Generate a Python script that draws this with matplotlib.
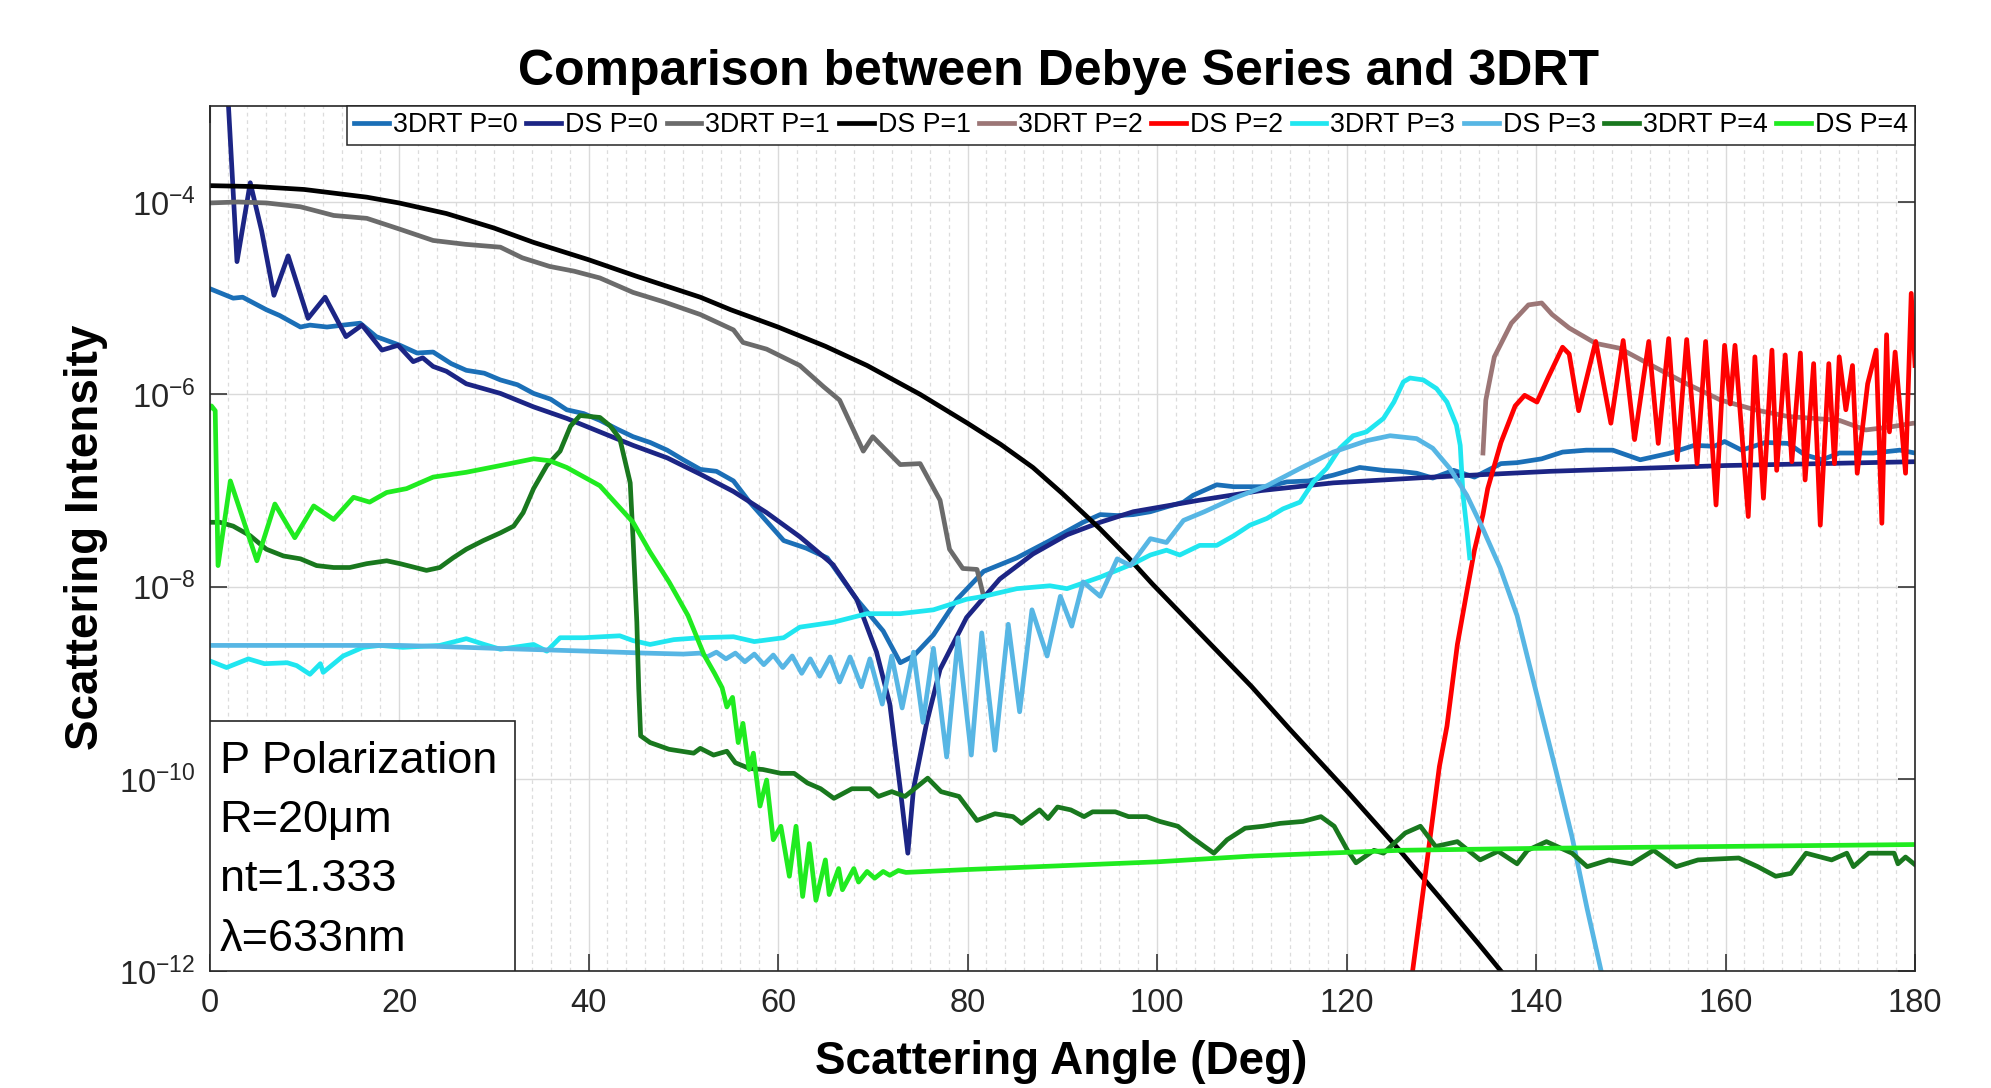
import numpy as np
import matplotlib
matplotlib.use("Agg")
import matplotlib.pyplot as plt
from matplotlib.patches import Rectangle
from matplotlib.ticker import FixedLocator, MultipleLocator, FuncFormatter, NullLocator

plt.rcParams['font.family'] = ['Liberation Sans', 'DejaVu Sans']
plt.rcParams['mathtext.fontset'] = 'custom'
plt.rcParams['mathtext.rm'] = 'Liberation Sans'
plt.rcParams['mathtext.it'] = 'Liberation Sans'
plt.rcParams['mathtext.bf'] = 'Liberation Sans:bold'
plt.rcParams['mathtext.default'] = 'regular'

# ---------------- data (angle in degrees, log10 of scattering intensity) ----------------
rt0_angle = [0, 2.5, 3.5, 6.0, 7.4, 9.6, 10.6, 12.4, 14.1, 15.9, 17.6, 20.1, 21.9, 23.6, 25.5, 27.1, 29, 30.7,
             32.5, 34.2, 36, 37.7, 39.5, 41.2, 43, 44.7, 46.5, 48.3, 50, 51.8, 53.5, 55.3, 57.0, 60.6, 63, 65.2,
             68.3, 71.1, 72.9, 74.3, 76.4, 78.9, 81.7, 85.2, 88.7, 92.2, 94.0, 95.8, 97.5, 99.3, 101, 102.8,
             103.8, 106.3, 108.1, 111.6, 113.7, 116, 118.6, 121.4, 123.9, 125.65, 127.4, 129.1, 131.3, 133.5,
             136.3, 138, 140.6, 142.8, 145.3, 148.1, 151, 154.2, 156.7, 158.8, 159.9, 161.7, 164.2, 166.6,
             168.4, 170.2, 172, 175.6, 178.4, 180]
rt0_log10 = [-4.90, -5.00, -4.99, -5.12, -5.18, -5.30, -5.28, -5.30, -5.28, -5.26, -5.40, -5.49, -5.57, -5.56,
             -5.68, -5.75, -5.78, -5.85, -5.90, -5.99, -6.05, -6.16, -6.20, -6.27, -6.36, -6.44, -6.50, -6.58,
             -6.68, -6.78, -6.80, -6.90, -7.12, -7.52, -7.60, -7.70, -8.13, -8.46, -8.79, -8.72, -8.50, -8.13,
             -7.84, -7.70, -7.52, -7.33, -7.25, -7.26, -7.25, -7.22, -7.17, -7.12, -7.05, -6.94, -6.96, -6.96,
             -6.91, -6.90, -6.84, -6.76, -6.79, -6.80, -6.82, -6.87, -6.79, -6.86, -6.72, -6.71, -6.67, -6.60,
             -6.58, -6.58, -6.68, -6.61, -6.53, -6.54, -6.49, -6.58, -6.50, -6.51, -6.63, -6.68, -6.61, -6.61,
             -6.58, -6.61]

ds0_angle = [1.5, 2.0, 2.9, 4.3, 5.5, 6.8, 8.3, 10.4, 12.2, 14.4, 16.1, 18.2, 19.9, 21.5, 22.5, 23.6, 25, 27.1,
             30.7, 34.2, 37.7, 41.2, 44.7, 48.3, 51.8, 55.3, 58.8, 62.3, 65.8, 68.3, 70.4, 71.8, 72.9, 73.7,
             74.3, 75.7, 77.1, 79.9, 83.4, 86.9, 90.5, 94.0, 97.5, 104.5, 111, 118.6, 129.1, 141.5, 160, 180]
ds0_log10 = [-2.4, -3.0, -4.62, -3.80, -4.30, -4.97, -4.56, -5.21, -4.99, -5.40, -5.28, -5.54, -5.49, -5.66,
             -5.62, -5.71, -5.76, -5.89, -5.99, -6.13, -6.25, -6.39, -6.53, -6.66, -6.83, -7.01, -7.23, -7.48,
             -7.77, -8.13, -8.68, -9.22, -10.1, -10.77, -10.1, -9.41, -8.86, -8.32, -7.92, -7.66, -7.46, -7.33,
             -7.22, -7.10, -7.00, -6.92, -6.86, -6.80, -6.74, -6.70]

rt1_angle = [0, 3, 6, 9.6, 13.1, 16.6, 20, 23.6, 27, 30.7, 33, 35.9, 38.5, 41.2, 44.7, 48, 51.8, 55.3, 56.3,
             58.8, 62.3, 64.8, 66.5, 69.0, 70.0, 72.9, 75.0, 77.1, 78.1, 79.5, 81.0, 81.7]
rt1_log10 = [-4.01, -4.00, -4.01, -4.05, -4.14, -4.17, -4.28, -4.40, -4.44, -4.47, -4.58, -4.67, -4.72, -4.79,
             -4.94, -5.04, -5.17, -5.33, -5.46, -5.53, -5.70, -5.92, -6.06, -6.59, -6.44, -6.73, -6.72, -7.10,
             -7.61, -7.81, -7.82, -8.10]

ds1_angle = [0, 5, 10, 16.6, 20, 25, 30, 34.2, 40, 45, 51.8, 55, 60, 65, 69.4, 75, 80, 83.5, 86.9, 90, 94,
             97, 99.5, 104.5, 110, 114, 120, 125.6, 130, 134, 137]
ds1_log10 = [-3.83, -3.84, -3.87, -3.95, -4.01, -4.12, -4.27, -4.42, -4.60, -4.77, -4.99, -5.12, -5.30, -5.50,
             -5.70, -6.00, -6.30, -6.52, -6.76, -7.03, -7.40, -7.70, -7.97, -8.48, -9.04, -9.48, -10.12,
             -10.74, -11.25, -11.72, -12.08]

rt2_angle = [134.4, 134.7, 135.6, 137.4, 139.2, 140.6, 141.7, 143.5, 146.3, 148.8, 152.4, 155.9, 159.5, 163.1,
             166.6, 172, 174.8, 177.3, 179.8, 180]
rt2_log10 = [-6.61, -6.06, -5.61, -5.26, -5.07, -5.05, -5.17, -5.31, -5.47, -5.52, -5.71, -5.89, -6.06, -6.16,
             -6.23, -6.27, -6.37, -6.34, -6.30, -6.30]

ds2_angle = [126.9, 128.2, 129.8, 130.6, 131.7, 132.7, 133.5, 134.4, 134.9, 136.3, 137.8, 138.8, 140.1, 141.3,
             142.8, 143.5, 144.5, 146.3, 147.9, 149.2, 150.4, 151.9, 152.9, 154.0, 154.9, 155.9, 157.0, 157.9,
             159.0, 159.9, 160.5, 161.0, 162.4, 163.1, 164.0, 164.9, 165.4, 166.3, 167.0, 167.9, 168.4, 169.3,
             170.0, 170.9, 171.5, 172.0, 172.7, 173.4, 173.9, 175.0, 175.9, 176.5, 177.0, 177.3, 177.9, 179.0,
             179.6, 180]
ds2_log10 = [-12.05, -11.08, -9.87, -9.45, -8.60, -8.05, -7.62, -7.25, -6.98, -6.50, -6.12, -6.01, -6.08, -5.82,
             -5.51, -5.58, -6.17, -5.45, -6.30, -5.44, -6.47, -5.45, -6.51, -5.42, -6.68, -5.43, -6.72, -5.45,
             -7.15, -5.49, -6.10, -5.49, -7.27, -5.61, -7.08, -5.54, -6.79, -5.59, -6.70, -5.57, -6.89, -5.68,
             -7.36, -5.68, -6.72, -5.61, -6.16, -5.70, -6.82, -5.89, -5.54, -7.34, -5.38, -6.39, -5.56, -6.82,
             -4.95, -5.70]

rt3_angle = [0, 1.8, 4.1, 5.8, 8.2, 9.2, 10.6, 11.7, 12.0, 14.1, 16.2, 18.0, 20.4, 24.3, 27.1, 29, 30.7, 34.2,
             35.6, 37.0, 39.5, 43.3, 44.7, 46.5, 49, 51.8, 55.3, 57.5, 60.6, 62.3, 65.8, 69.4, 72.9, 76.4, 79.9,
             81.7, 85.2, 88.7, 90.5, 94.0, 97.5, 99.3, 101, 102.4, 104.5, 106.3, 108.1, 109.8, 111.6, 113.3,
             115.1, 116.5, 117.9, 119.3, 120.7, 122.1, 123.9, 125.0, 126.0, 126.7, 128.1, 129.5, 130.6, 131.6,
             132.0, 132.3, 132.7, 133.0]
rt3_log10 = [-8.77, -8.84, -8.75, -8.80, -8.79, -8.82, -8.91, -8.80, -8.89, -8.72, -8.63, -8.61, -8.63, -8.61,
             -8.54, -8.60, -8.65, -8.60, -8.67, -8.53, -8.53, -8.51, -8.56, -8.60, -8.55, -8.53, -8.52, -8.57,
             -8.53, -8.42, -8.37, -8.28, -8.28, -8.24, -8.13, -8.10, -8.02, -7.99, -8.02, -7.90, -7.76, -7.67,
             -7.62, -7.67, -7.57, -7.57, -7.47, -7.36, -7.29, -7.19, -7.12, -6.91, -6.77, -6.56, -6.43, -6.39,
             -6.25, -6.08, -5.87, -5.83, -5.85, -5.94, -6.08, -6.32, -6.53, -7.05, -7.40, -7.70]

ds3_angle = [0, 10, 20, 24, 30, 40, 46, 50, 51.8, 52.5, 53.5, 54.5, 55.5, 56.5, 57.5, 58.5, 59.5, 60.5, 61.5,
             62.5, 63.4, 64.4, 65.5, 66.5, 67.6, 68.8, 69.7, 71.0, 72.0, 73.1, 74.3, 75.3, 76.4, 77.8, 79.0,
             80.4, 81.5, 82.9, 84.3, 85.5, 86.8, 88.4, 89.8, 91.0, 92.2, 94.0, 95.8, 97.2, 99.3, 101, 102.8,
             105, 108.1, 111.6, 115.1, 118.6, 122.2, 124.6, 127.4, 129.1, 130.9, 132.7, 134.4, 136.2, 138,
             139.9, 142.2, 143.8, 145.4, 147.0]
ds3_log10 = [-8.61, -8.61, -8.61, -8.62, -8.64, -8.67, -8.69, -8.70, -8.69, -8.73, -8.68, -8.75, -8.69, -8.78,
             -8.70, -8.81, -8.71, -8.84, -8.72, -8.90, -8.75, -8.93, -8.73, -8.99, -8.73, -9.04, -8.75, -9.22,
             -8.72, -9.26, -8.68, -9.41, -8.64, -9.77, -8.53, -9.75, -8.48, -9.70, -8.39, -9.30, -8.24, -8.72,
             -8.10, -8.41, -7.95, -8.10, -7.71, -7.78, -7.50, -7.54, -7.31, -7.22, -7.08, -6.95, -6.77, -6.60,
             -6.48, -6.43, -6.46, -6.56, -6.77, -7.05, -7.40, -7.80, -8.30, -9.05, -9.95, -10.60, -11.35, -12.05]

rt4_angle = [0, 1.1, 2.5, 4.3, 6.0, 7.8, 9.6, 11.3, 13.1, 14.8, 16.6, 18.7, 20.1, 22.9, 24.3, 25.7, 27.1, 28.9,
             30.7, 32.1, 33.1, 34.2, 35.6, 37.0, 38.1, 39.1, 41.2, 42.3, 43.3, 44.4, 44.7, 45.1, 45.3, 45.5,
             46.5, 48.5, 51.1, 51.8, 53.2, 54.6, 55.5, 57.0, 58.4, 60.3, 61.7, 63.1, 64.5, 65.9, 67.8, 69.7,
             70.6, 72.0, 73.4, 75.8, 77.2, 79.1, 81.0, 82.9, 84.8, 85.7, 87.6, 88.5, 89.5, 90.9, 92.3, 93.2,
             95.6, 97.0, 98.9, 100.3, 102.2, 103.6, 105.0, 106.0, 107.4, 109.3, 111.2, 113.0, 115.4, 117.3,
             118.7, 120.1, 121.0, 122.9, 123.9, 126.2, 127.8, 129.4, 131.7, 134.1, 136.0, 138.0, 139.1, 141.1,
             143.8, 145.4, 147.7, 150.1, 152.4, 154.8, 157.1, 161.4, 163.4, 165.3, 166.9, 168.5, 171.2, 172.8,
             173.5, 175.1, 177.8, 178.2, 179.0, 180]
rt4_log10 = [-7.33, -7.33, -7.37, -7.47, -7.61, -7.68, -7.71, -7.78, -7.80, -7.80, -7.76, -7.73, -7.76, -7.83,
             -7.80, -7.70, -7.61, -7.52, -7.44, -7.37, -7.23, -6.98, -6.74, -6.59, -6.33, -6.22, -6.24, -6.33,
             -6.46, -6.92, -7.50, -8.37, -9.06, -9.55, -9.62, -9.69, -9.73, -9.68, -9.75, -9.71, -9.83, -9.89,
             -9.90, -9.94, -9.94, -10.04, -10.10, -10.20, -10.10, -10.10, -10.18, -10.13, -10.18, -9.99, -10.13,
             -10.18, -10.43, -10.36, -10.39, -10.46, -10.32, -10.41, -10.29, -10.32, -10.39, -10.34, -10.34,
             -10.39, -10.39, -10.44, -10.49, -10.60, -10.70, -10.77, -10.63, -10.51, -10.49, -10.46, -10.44,
             -10.39, -10.49, -10.74, -10.87, -10.74, -10.77, -10.56, -10.49, -10.70, -10.65, -10.84, -10.75,
             -10.88, -10.74, -10.65, -10.77, -10.91, -10.84, -10.88, -10.74, -10.91, -10.84, -10.82, -10.91,
             -11.01, -10.98, -10.77, -10.84, -10.77, -10.91, -10.77, -10.77, -10.88, -10.81, -10.89]

ds4_angle = [0, 0.2, 0.6, 0.9, 2.2, 5.0, 6.9, 9.0, 11.0, 13.1, 15.2, 16.9, 18.7, 20.8, 23.6, 27.1, 30.7, 34.2,
             35.9, 37.7, 41.2, 44.7, 46.5, 48.5, 50.5, 52.2, 53.3, 54.1, 54.6, 55.2, 55.8, 56.3, 56.95, 57.4,
             58.1, 58.8, 59.5, 60.3, 61.2, 61.9, 62.6, 63.3, 64.0, 65.0, 65.4, 66.4, 66.8, 68.0, 68.5, 69.4,
             70.2, 71.1, 71.8, 72.7, 73.5, 80, 90, 100, 110, 125.7, 140, 160, 180]
ds4_log10 = [-6.15, -6.12, -6.17, -7.78, -6.90, -7.73, -7.14, -7.49, -7.16, -7.30, -7.07, -7.12, -7.02, -6.98,
             -6.86, -6.81, -6.74, -6.67, -6.69, -6.76, -6.95, -7.33, -7.64, -7.95, -8.30, -8.71, -8.90, -9.05,
             -9.25, -9.15, -9.62, -9.42, -9.90, -9.73, -10.28, -10.01, -10.63, -10.49, -11.01, -10.49, -11.22,
             -10.67, -11.26, -10.84, -11.20, -10.93, -11.15, -10.93, -11.07, -10.96, -11.03, -10.96, -11.00,
             -10.95, -10.97, -10.94, -10.90, -10.86, -10.80, -10.74, -10.72, -10.70, -10.68]

series_labels = ['3DRT P=0', 'DS P=0', '3DRT P=1', 'DS P=1', '3DRT P=2', 'DS P=2',
                 '3DRT P=3', 'DS P=3', '3DRT P=4', 'DS P=4']
series_colors = ['#1b6fb7', '#1c2585', '#6b6b6b', '#000000', '#9c7676', '#ff0000',
                 '#20e6f0', '#57b6e4', '#19781e', '#20eb20']

x_ticks = [0, 20, 40, 60, 80, 100, 120, 140, 160, 180]
y_tick_exponents = [-12, -10, -8, -6, -4]
annotation_lines = ['P Polarization', 'R=20\u03bcm', 'nt=1.333', '\u03bb=633nm']
title_text = 'Comparison between Debye Series and 3DRT'
xlabel_text = 'Scattering Angle (Deg)'
ylabel_text = 'Scattering Intensity'

# ---------------- figure ----------------
fig = plt.figure(figsize=(19.91, 10.88), dpi=100)
ax = fig.add_axes([0.10523, 0.10708, 0.85661, 0.79568])

angles = [rt0_angle, ds0_angle, rt1_angle, ds1_angle, rt2_angle, ds2_angle, rt3_angle, ds3_angle, rt4_angle, ds4_angle]
logs = [rt0_log10, ds0_log10, rt1_log10, ds1_log10, rt2_log10, ds2_log10, rt3_log10, ds3_log10, rt4_log10, ds4_log10]

for a, l, lab, col in zip(angles, logs, series_labels, series_colors):
    ax.plot(a, 10.0 ** np.asarray(l), color=col, lw=3.4, label=lab, solid_joinstyle='round')

ax.set_yscale('log')
ax.set_xlim(0, 180)
ax.set_ylim(1e-12, 1e-3)

ax.xaxis.set_major_locator(FixedLocator(x_ticks))
ax.xaxis.set_minor_locator(MultipleLocator(2))
ax.yaxis.set_major_locator(FixedLocator([10.0 ** e for e in y_tick_exponents]))
ax.yaxis.set_minor_locator(NullLocator())
ax.yaxis.set_major_formatter(FuncFormatter(lambda v, p: r'$10^{%d}$' % int(round(np.log10(v)))))

ax.grid(which='major', axis='both', color='#dadada', lw=1.0)
ax.grid(which='minor', axis='x', color='#dcdcdc', lw=0.9, linestyle=(0, (3, 3)))
ax.set_axisbelow(True)

ax.tick_params(which='major', direction='in', length=12, width=1.1, colors='#262626',
               labelsize=23.5, top=True, right=True, pad=12)
ax.tick_params(axis='y', which='major', pad=10)
ax.tick_params(which='minor', length=0, top=True, right=True)
for s in ax.spines.values():
    s.set_color('#262626')
    s.set_linewidth(1.2)

leg = ax.legend(loc='upper right', bbox_to_anchor=(1.0, 1.0), ncol=10, fontsize=19.3,
                frameon=True, fancybox=False, borderaxespad=0.0, borderpad=0.25,
                handlelength=1.3, handletextpad=0.15, columnspacing=0.32, framealpha=1.0)
leg.get_frame().set_edgecolor('#262626')
leg.get_frame().set_linewidth(1.1)

# annotation box in lower-left corner
ax.add_patch(Rectangle((0, 0), 0.1794, 0.2894, transform=ax.transAxes, facecolor='white',
                       edgecolor='#262626', lw=1.2, zorder=5))
for txt, yy in zip(annotation_lines, [0.2421, 0.1746, 0.1058, 0.0365]):
    ax.text(0.006, yy, txt, transform=ax.transAxes, fontsize=32.5, va='center', ha='left',
            color='black', zorder=6)

fig.text(0.5316, 0.9335, title_text, ha='center', va='center', fontsize=36, fontweight='bold')
fig.text(0.5332, 0.0243, xlabel_text, ha='center', va='center', fontsize=33, fontweight='bold')
fig.text(0.0434, 0.5064, ylabel_text, ha='center', va='center', fontsize=33, fontweight='bold',
         rotation=90)

fig.savefig('out.png', dpi=100, facecolor='white')
